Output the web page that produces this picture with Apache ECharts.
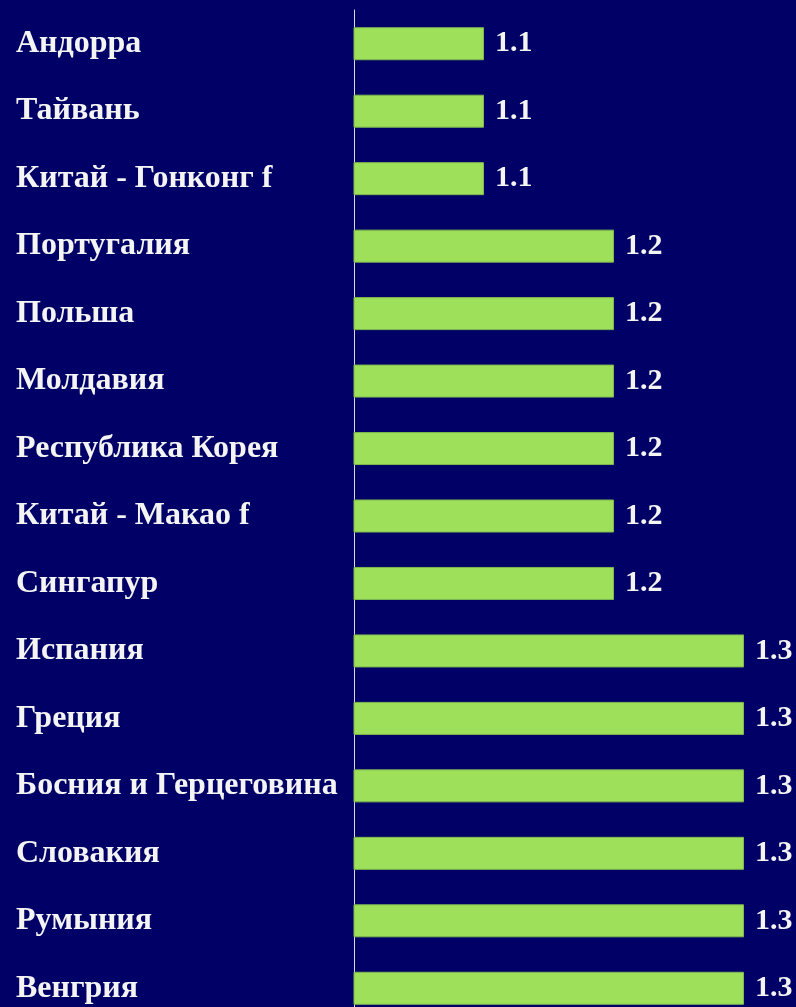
<!DOCTYPE html>
<html>
<head>
<meta charset="utf-8">
<script src="https://cdn.jsdelivr.net/npm/echarts@6/dist/echarts.min.js"></script>
<style>
  html, body { margin: 0; padding: 0; background: #000066; overflow: hidden; }
  /* taller than the window: the last band runs past the bottom edge */
  #chart { width: 796px; height: 1022px; }
</style>
</head>
<body>
<div id="chart"></div>
<script>
// countries, top to bottom
var countries = ['Андорра', 'Тайвань', 'Китай - Гонконг f', 'Португалия', 'Польша', 'Молдавия',
    'Республика Корея', 'Китай - Макао f', 'Сингапур', 'Испания', 'Греция',
    'Босния и Герцеговина', 'Словакия', 'Румыния', 'Венгрия'];
var values = [1.1, 1.1, 1.1, 1.2, 1.2, 1.2, 1.2, 1.2, 1.2, 1.3, 1.3, 1.3, 1.3, 1.3, 1.3];

var myChart = echarts.init(document.getElementById('chart'));
var option = {
    backgroundColor: '#000066',
    animation: false,
    grid: {
        left: 354,
        right: 52,
        top: 10,
        bottom: 0
    },
    xAxis: {
        type: 'value',
        min: 1.0,
        max: 1.3,
        show: false
    },
    yAxis: {
        type: 'category',
        inverse: true,
        data: countries,
        axisLine: { show: true, lineStyle: { color: '#d8d8e8', width: 1 } },
        axisTick: { show: false },
        splitLine: { show: false },
        axisLabel: {
            align: 'left',
            margin: 338,
            color: '#f4f4f4',
            fontFamily: 'Liberation Serif',
            fontWeight: 'bold',
            fontSize: 32
        }
    },
    series: [{
        type: 'bar',
        data: values,
        barWidth: 33,
        itemStyle: {
            color: '#9ee05a',
            borderColor: '#7fb850',
            borderWidth: 1
        },
        label: {
            show: true,
            position: 'right',
            distance: 11,
            color: '#f4f4f4',
            fontFamily: 'Liberation Serif',
            fontWeight: 'bold',
            fontSize: 30,
            formatter: function (p) { return p.value.toFixed(1); }
        }
    }]
};
myChart.setOption(option);
</script>
</body>
</html>
